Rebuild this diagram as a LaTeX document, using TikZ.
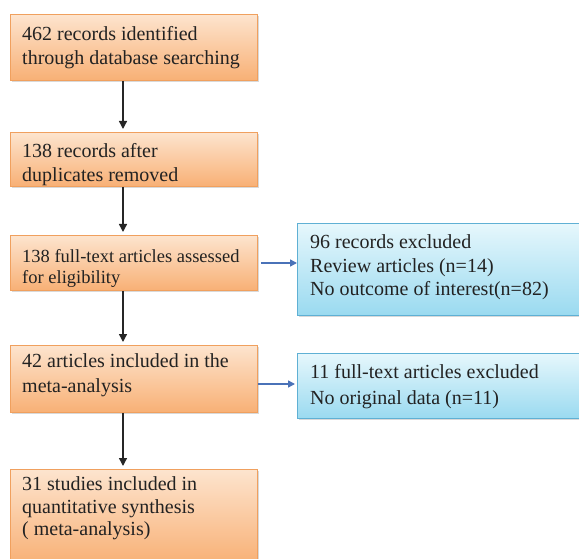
\documentclass[tikz,border=0pt]{standalone}
\usepackage{fontspec}
\setmainfont{Liberation Serif}
\usetikzlibrary{shadows,arrows.meta}
\definecolor{orTop}{HTML}{FDE4CE}
\definecolor{orBot}{HTML}{F8B075}
\definecolor{orLine}{HTML}{F0A05E}
\definecolor{blTop}{HTML}{E6F7FC}
\definecolor{blBot}{HTML}{9ADAF0}
\definecolor{blLine}{HTML}{5FB0D4}
\definecolor{arrBlue}{HTML}{4A72B8}
\definecolor{txt}{HTML}{222222}
\tikzset{
  obox/.style={draw=orLine, line width=0.9pt, top color=orTop, bottom color=orBot,
    drop shadow={shadow xshift=1.5pt, shadow yshift=-2pt, opacity=0.3},
    anchor=north west, inner sep=0pt, minimum width=247pt},
  bbox/.style={draw=blLine, line width=0.9pt, top color=blTop, bottom color=blBot,
    drop shadow={shadow xshift=1.5pt, shadow yshift=-2pt, opacity=0.3},
    anchor=north west, inner sep=0pt, minimum width=290pt},
  btext/.style={anchor=north west, inner sep=0pt, align=left, text=txt,
    font=\fontsize{20}{23.5}\selectfont},
  karr/.style={-{Triangle[length=8pt,width=8pt]}, line width=1.4pt, black!85, shorten >=3pt},
  barr/.style={-{Triangle[length=7pt,width=7pt]}, line width=1.4pt, arrBlue}
}
\begin{document}
\begin{tikzpicture}[x=1pt,y=-1pt]
\useasboundingbox (0,0) rectangle (579,559);
% boxes
\node[obox, minimum height=66pt] (b1) at (10,14) {};
\node[obox, minimum height=54pt] (b2) at (10,132) {};
\node[obox, minimum height=55pt] (b3) at (10,235) {};
\node[obox, minimum height=67pt] (b4) at (10,345) {};
\node[obox, minimum height=95pt] (b5) at (10,469) {};
\node[bbox, minimum height=92pt] (r1) at (297,223) {};
\node[bbox, minimum height=65pt] (r2) at (297,353) {};
% texts
\node[btext] (t1) at (22,26.5) {462 records identified\\through database searching};
\node[btext] (t2) at (22,143.5) {138 records after\\duplicates removed};
\node[btext, font=\fontsize{18.5}{20.5}\selectfont] (t3) at (22,249.5) {138 full-text articles assessed\\for eligibility};
\node[btext, font=\fontsize{20}{25}\selectfont] (t4) at (22,353.5) {42 articles included in the\\meta-analysis};
\node[btext, font=\fontsize{20}{22.5}\selectfont] (t5) at (22,476.5) {31 studies included in\\quantitative synthesis\\( meta-analysis)};
\node[btext] (t6) at (310,234.5) {96 records excluded\\Review articles (n=14)\\No outcome of interest(n=82)};
\node[btext, font=\fontsize{20}{26}\selectfont] (t7) at (310,364.5) {11 full-text articles excluded\\No original data (n=11)};
% connectors
\draw[karr] (b1.south -| 123,0) -- (b2.north -| 123,0);
\draw[karr] (b2.south -| 123,0) -- (b3.north -| 123,0);
\draw[karr] (b3.south -| 123,0) -- (b4.north -| 123,0);
\draw[karr] (b4.south -| 123,0) -- (b5.north -| 123,0);
\draw[barr] ([xshift=3pt]b3.east |- 0,263) -- (r1.west |- 0,263);
\draw[barr] (b4.east |- 0,384) -- ([xshift=-2pt]r2.west |- 0,384);
\end{tikzpicture}
\end{document}
